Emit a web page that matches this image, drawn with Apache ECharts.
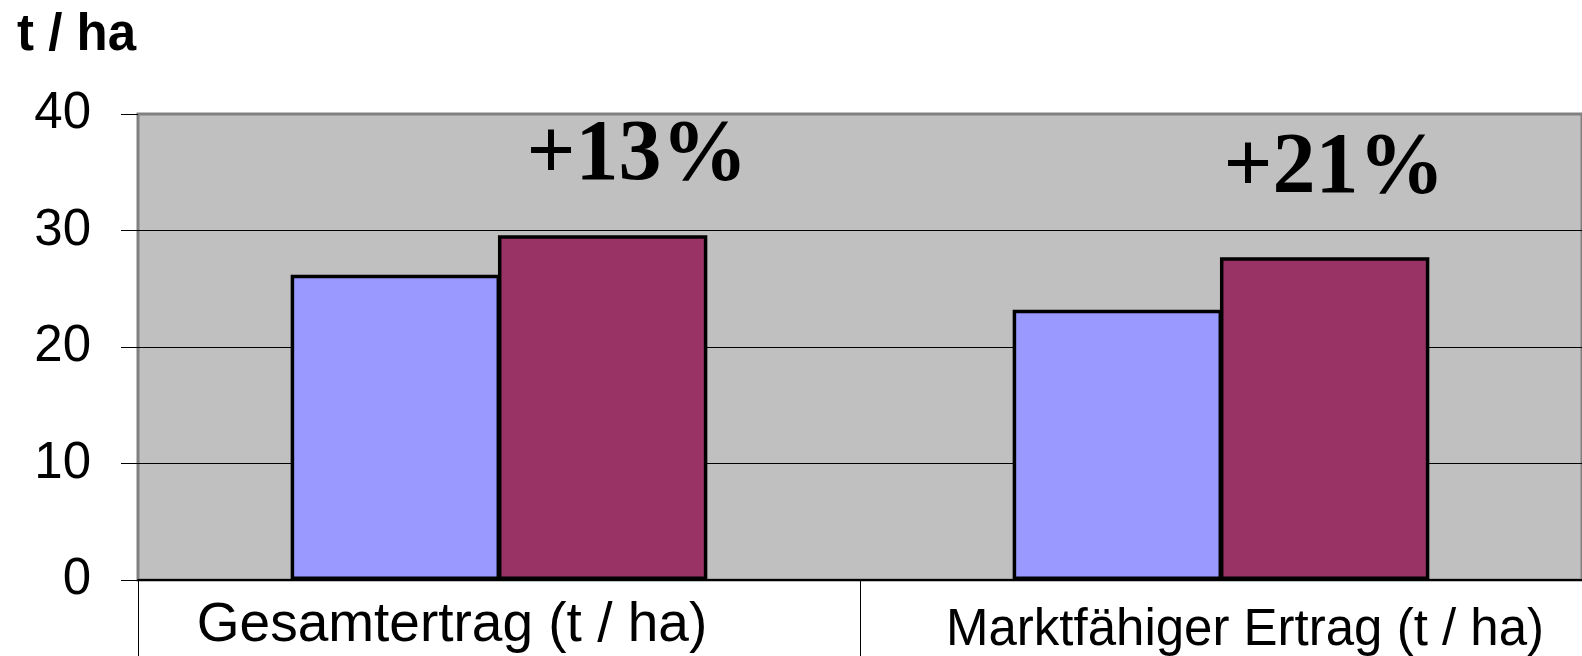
<!DOCTYPE html>
<html>
<head>
<meta charset="utf-8">
<script src="https://cdn.jsdelivr.net/npm/echarts@6/dist/echarts.min.js"></script>
<style>
html,body{margin:0;padding:0;background:#fff;}
#chart{width:1582px;height:656px;}
</style>
</head>
<body>
<div id="chart"></div>
<script>
var categories = ['Gesamtertrag (t / ha)', 'Marktfähiger Ertrag (t / ha)'];
var seriesNames = ['Vorher', 'Nachher'];
var seriesA = [26.2, 23.2];
var seriesB = [29.6, 27.7];
var yTicks = [0, 10, 20, 30, 40];
var annotations = ['+13%', '+21%'];
var axisTitle = 't / ha';

var chart = echarts.init(document.getElementById('chart'), null, {renderer: 'canvas'});
var sans = '"Liberation Sans", Arial, sans-serif';
var serif = '"Liberation Serif", "Times New Roman", serif';

var option = {
  animation: false,
  backgroundColor: '#ffffff',
  grid: {
    left: 138, top: 114, width: 1446, bottom: 75,
    show: true, backgroundColor: '#C0C0C0', borderColor: '#808080', borderWidth: 3,
    containLabel: false
  },
  xAxis: {
    type: 'category',
    data: categories,
    boundaryGap: true,
    axisLine: {show: true, lineStyle: {color: '#000', width: 2}},
    axisTick: {show: true, length: 80, lineStyle: {color: '#000', width: 1}},
    axisLabel: {
      margin: 14,
      interval: 0,
      color: '#000',
      fontFamily: sans,
      formatter: function (v, i) { return '{c' + i + '|' + v + '}'; },
      rich: {
        c0: {fontSize: 55, fontFamily: sans, color: '#000', padding: [4, 94, 0, 0]},
        c1: {fontSize: 51, fontFamily: sans, color: '#000', padding: [11, 0, 0, 48]}
      }
    },
    z: 5
  },
  yAxis: {
    type: 'value',
    min: yTicks[0], max: yTicks[yTicks.length - 1], interval: 10,
    axisLine: {show: false},
    axisTick: {show: true, length: 17, lineStyle: {color: '#000', width: 1}},
    axisLabel: {
      margin: 47, color: '#000', fontSize: 51, fontFamily: sans,
      padding: [0, 0, 8, 0]
    },
    splitLine: {show: true, lineStyle: {color: ['#000', '#000', '#000', '#000', '#808080'], width: 1}}
  },
  series: [
    {
      name: seriesNames[0], type: 'bar', data: seriesA,
      barWidth: '29%', barGap: '-1%',
      itemStyle: {color: '#9999FF', borderColor: '#000', borderWidth: 3.5}
    },
    {
      name: seriesNames[1], type: 'bar', data: seriesB,
      barWidth: '29%', barGap: '-1%',
      itemStyle: {color: '#993366', borderColor: '#000', borderWidth: 3.5}
    }
  ],
  graphic: [
    {
      type: 'text', left: 17, top: 10,
      style: {text: axisTitle, font: 'bold 51px ' + sans, fill: '#000'}
    },
    {
      type: 'text', x: 637, y: 200, z: 10,
      style: {text: annotations[0], font: 'bold 86px ' + serif, fill: '#000', align: 'center', verticalAlign: 'bottom'}
    },
    {
      type: 'text', x: 1334, y: 213, z: 10,
      style: {text: annotations[1], font: 'bold 86px ' + serif, fill: '#000', align: 'center', verticalAlign: 'bottom'}
    }
  ]
};
chart.setOption(option);
</script>
</body>
</html>
